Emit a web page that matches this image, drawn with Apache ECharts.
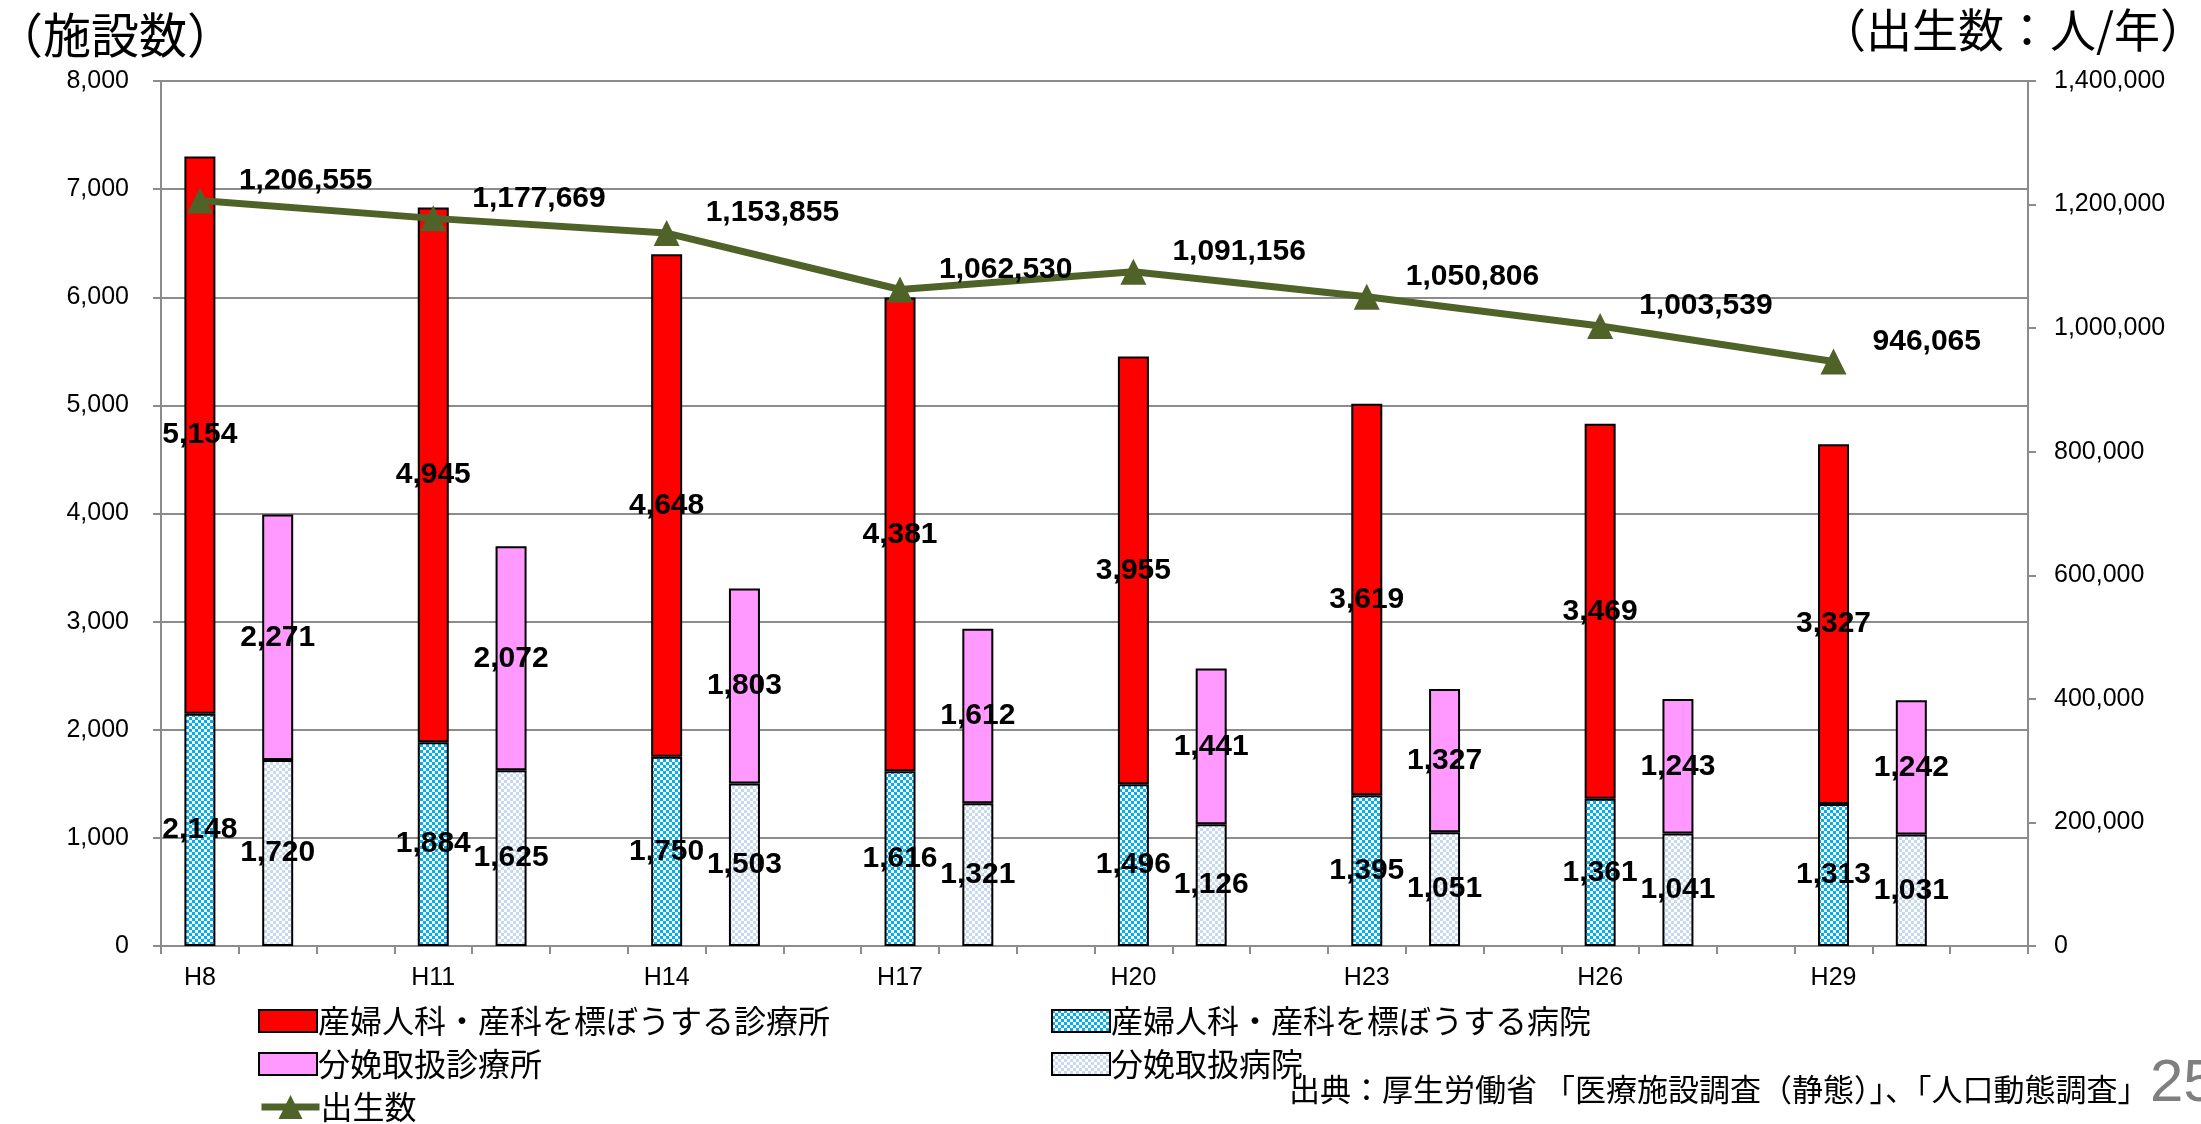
<!DOCTYPE html>
<html>
<head>
<meta charset="utf-8">
<script src="https://cdn.jsdelivr.net/npm/echarts@6/dist/echarts.min.js"></script>
<style>
html,body{margin:0;padding:0;background:#fff;}
#main{width:2201px;height:1124px;}
</style>
</head>
<body>
<div id="main"></div>
<script>
// ---- data ----
const years = ['H8','H11','H14','H17','H20','H23','H26','H29'];
const clinics = [5154, 4945, 4648, 4381, 3955, 3619, 3469, 3327];          // 産婦人科・産科を標ぼうする診療所
const hospitals = [2148, 1884, 1750, 1616, 1496, 1395, 1361, 1313];        // 産婦人科・産科を標ぼうする病院
const deliveryClinics = [2271, 2072, 1803, 1612, 1441, 1327, 1243, 1242];  // 分娩取扱診療所
const deliveryHospitals = [1720, 1625, 1503, 1321, 1126, 1051, 1041, 1031];// 分娩取扱病院
const births = [1206555, 1177669, 1153855, 1062530, 1091156, 1050806, 1003539, 946065]; // 出生数
const leftTicks = ['0','1,000','2,000','3,000','4,000','5,000','6,000','7,000','8,000'];

const names = {
  clinics: '産婦人科・産科を標ぼうする診療所',
  hospitals: '産婦人科・産科を標ぼうする病院',
  dClinics: '分娩取扱診療所',
  dHospitals: '分娩取扱病院',
  births: '出生数'
};

// Each year occupies 3 slots: [facility stack, delivery stack, empty]
const slots = [];
years.forEach((y) => { slots.push(y, y + '_b', y + '_c'); });
function place(arr, offset) {
  const out = [];
  arr.forEach(v => {
    const g = ['-', '-', '-'];
    g[offset] = v;
    out.push(...g);
  });
  return out;
}

function checker(c1, c2, cell) {
  const cv = document.createElement('canvas');
  cv.width = cell * 2; cv.height = cell * 2;
  const ctx = cv.getContext('2d');
  ctx.fillStyle = c2; ctx.fillRect(0, 0, cell * 2, cell * 2);
  ctx.fillStyle = c1;
  ctx.fillRect(0, 0, cell, cell);
  ctx.fillRect(cell, cell, cell, cell);
  return { image: cv, repeat: 'repeat' };
}
const bluePattern = checker('#00B0F0', '#ffffff', 3);
const lightPattern = checker('#C6D9F1', '#ffffff', 3);

const fmt = v => Number(v).toLocaleString('en-US');
const numFont = "'Liberation Sans', Arial, sans-serif";
const jpFont = "'Noto Sans CJK JP', sans-serif";

const barLabel = {
  show: true,
  position: 'inside',
  color: '#000',
  fontWeight: 'bold',
  fontSize: 30,
  fontFamily: numFont,
  formatter: p => fmt(p.value)
};

function legendItem(name, left, centerY) {
  const isLine = name === names.births;
  return {
    left: left, top: centerY - 17, itemWidth: 58, itemHeight: isLine ? 30 : 22, itemGap: 0,
    icon: isLine ? undefined : 'rect',
    lineStyle: { width: 7 },
    textStyle: { fontSize: 32, lineHeight: 34, color: '#000', fontFamily: jpFont, padding: [0, 0, 0, -4] },
    data: [name]
  };
}

const chart = echarts.init(document.getElementById('main'));
chart.setOption({
  animation: false,
  backgroundColor: '#fff',
  title: [
    { text: '（施設数）', left: -10, top: 6, textStyle: { fontSize: 48, fontWeight: 'normal', color: '#000', fontFamily: jpFont } },
    { text: '（出生数：人/年）', right: -10, top: 2, textStyle: { fontSize: 46, fontWeight: 'normal', color: '#000', fontFamily: jpFont } }
  ],
  grid: { left: 161, right: 173, top: 81, bottom: 178 },
  legend: [
    legendItem(names.clinics, 253, 1016),
    legendItem(names.dClinics, 253, 1059),
    legendItem(names.births, 253, 1102),
    legendItem(names.hospitals, 1046, 1016),
    legendItem(names.dHospitals, 1046, 1059)
  ],
  graphic: [
    { type: 'text', left: 1289, top: 1074, style: { text: '出典：厚生労働省 「医療施設調査（静態）」、「人口動態調査」', fontSize: 31, fill: '#000', fontFamily: jpFont } },
    { type: 'text', left: 2150, top: 1054, style: { text: '25', fontSize: 60, fill: '#7f7f7f', fontFamily: numFont } }
  ],
  xAxis: {
    type: 'category',
    data: slots,
    axisLine: { lineStyle: { color: '#8c8c8c', width: 2 } },
    axisTick: { show: true, interval: 0, length: 8, lineStyle: { color: '#8c8c8c', width: 2 } },
    axisLabel: {
      interval: 0, margin: 20, fontSize: 25, color: '#000', fontFamily: numFont,
      formatter: (v, i) => (i % 3 === 0 ? v : '')
    }
  },
  yAxis: [
    {
      type: 'value', min: 0, max: 8000, interval: 1000,
      axisLine: { show: true, lineStyle: { color: '#8c8c8c', width: 2 } },
      axisTick: { show: true, length: 8, lineStyle: { color: '#8c8c8c', width: 2 } },
      splitLine: { show: true, lineStyle: { color: '#8c8c8c', width: 2 } },
      axisLabel: { fontSize: 25, color: '#000', margin: 32, fontFamily: numFont, formatter: (v) => leftTicks[Math.round(v / 1000)] }
    },
    {
      type: 'value', min: 0, max: 1400000, interval: 200000,
      axisLine: { show: true, lineStyle: { color: '#8c8c8c', width: 2 } },
      axisTick: { show: true, length: 8, lineStyle: { color: '#8c8c8c', width: 2 } },
      splitLine: { show: false },
      axisLabel: { fontSize: 25, color: '#000', margin: 26, fontFamily: numFont, formatter: fmt }
    }
  ],
  series: [
    {
      name: names.hospitals, type: 'bar', stack: 'fac', data: place(hospitals, 0),
      barWidth: 31, barGap: '-100%',
      itemStyle: { color: bluePattern, borderColor: '#000', borderWidth: 2 },
      label: barLabel
    },
    {
      name: names.clinics, type: 'bar', stack: 'fac', data: place(clinics, 0),
      barWidth: 31, barGap: '-100%',
      itemStyle: { color: '#FF0000', borderColor: '#000', borderWidth: 2 },
      label: barLabel
    },
    {
      name: names.dHospitals, type: 'bar', stack: 'del', data: place(deliveryHospitals, 1),
      barWidth: 31, barGap: '-100%',
      itemStyle: { color: lightPattern, borderColor: '#000', borderWidth: 2 },
      label: barLabel
    },
    {
      name: names.dClinics, type: 'bar', stack: 'del', data: place(deliveryClinics, 1),
      barWidth: 31, barGap: '-100%',
      itemStyle: { color: '#FF99FF', borderColor: '#000', borderWidth: 2 },
      label: barLabel
    },
    {
      name: names.births, type: 'line', yAxisIndex: 1, data: place(births, 0),
      connectNulls: true, z: 10,
      symbol: 'triangle', symbolSize: 26,
      lineStyle: { color: '#4F6228', width: 7 },
      itemStyle: { color: '#4F6228' },
      label: {
        show: true, position: 'right', distance: 26, offset: [0, -20],
        color: '#000', fontWeight: 'bold', fontSize: 30, fontFamily: numFont,
        formatter: p => fmt(p.value)
      }
    }
  ]
});
</script>
</body>
</html>
